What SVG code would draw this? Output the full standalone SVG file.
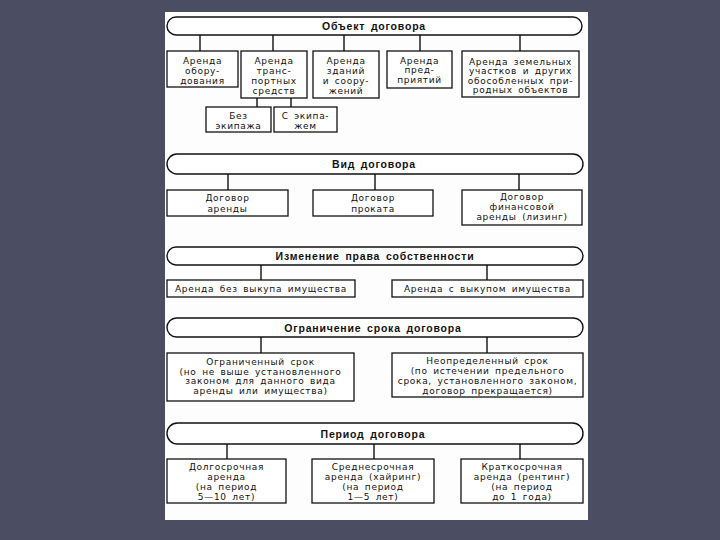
<svg xmlns="http://www.w3.org/2000/svg" width="720" height="540" viewBox="0 0 720 540">
<style>
.bx{fill:#fff;stroke:#111;stroke-width:1.3}
.pl{fill:#fff;stroke:#111;stroke-width:1.4}
.t{font-family:"DejaVu Sans","Liberation Sans",Arial,sans-serif;font-size:9px;letter-spacing:0.7px;word-spacing:2px;fill:#111;text-anchor:middle}
.h{font-family:"Liberation Sans",Arial,sans-serif;font-size:10.5px;font-weight:bold;letter-spacing:0.8px;word-spacing:2px;fill:#111;text-anchor:middle}
.c{stroke:#111;stroke-width:1.4;fill:none}
</style>
<rect width="720" height="540" fill="#4b4e62"/>
<rect x="165" y="12" width="423" height="508" fill="#fdfdfd"/>
<g id="connectors">
<path class="c" d="M200 35V51M273 35V51M344 35V51M420 35V51M520 35V51M257 98V107M291 98V107M228 174V190M375 174V190M519 174V190M261 265V280M487 265V280M261 337V353M487 337V353M227 444V459M374 444V459M520 444V459"/>
</g>
<g id="h1"><rect class="pl" x="167" y="17" width="415" height="18" rx="9"/><text class="h" x="374" y="30">Объект договора</text></g>
<g id="n1"><rect class="bx" x="167" y="51" width="71" height="36"/><text class="t" x="202.5" y="63.5">Аренда</text><text class="t" x="202.5" y="73.5">обору-</text><text class="t" x="202.5" y="83.5">дования</text></g>
<g id="n2"><rect class="bx" x="241" y="51" width="66" height="47"/><text class="t" x="274" y="63.5">Аренда</text><text class="t" x="274" y="73.5">транс-</text><text class="t" x="274" y="83.5">портных</text><text class="t" x="274" y="93.5">средств</text></g>
<g id="n3"><rect class="bx" x="313" y="51" width="66" height="47"/><text class="t" x="346" y="63.5">Аренда</text><text class="t" x="346" y="73.5">зданий</text><text class="t" x="346" y="83.5">и соору-</text><text class="t" x="346" y="93.5">жений</text></g>
<g id="n4"><rect class="bx" x="387" y="51" width="65" height="37"/><text class="t" x="419.5" y="63.5">Аренда</text><text class="t" x="419.5" y="73">пред-</text><text class="t" x="419.5" y="82.5">приятий</text></g>
<g id="n5"><rect class="bx" x="462" y="51" width="117" height="46"/><text class="t" x="520.5" y="64.5">Аренда земельных</text><text class="t" x="520.5" y="74">участков и других</text><text class="t" x="520.5" y="83.5">обособленных при-</text><text class="t" x="520.5" y="93">родных объектов</text></g>
<g id="n6"><rect class="bx" x="206" y="107" width="65" height="25"/><text class="t" x="238.5" y="118.5">Без</text><text class="t" x="238.5" y="129">экипажа</text></g>
<g id="n7"><rect class="bx" x="274" y="107" width="63" height="25"/><text class="t" x="305.5" y="118.5">С экипа-</text><text class="t" x="305.5" y="129">жем</text></g>
<g id="h2"><rect class="pl" x="167" y="154" width="416" height="20" rx="10"/><text class="h" x="374" y="168">Вид договора</text></g>
<g id="n8"><rect class="bx" x="167" y="190" width="121" height="26"/><text class="t" x="227.5" y="200.5">Договор</text><text class="t" x="227.5" y="211.5">аренды</text></g>
<g id="n9"><rect class="bx" x="313" y="190" width="120" height="26"/><text class="t" x="373" y="200.5">Договор</text><text class="t" x="373" y="211.5">проката</text></g>
<g id="n10"><rect class="bx" x="462" y="190" width="120" height="35"/><text class="t" x="522" y="200">Договор</text><text class="t" x="522" y="209.5">финансовой</text><text class="t" x="522" y="219.5">аренды (лизинг)</text></g>
<g id="h3"><rect class="pl" x="167" y="247" width="416" height="18" rx="9"/><text class="h" x="375" y="260">Изменение права собственности</text></g>
<g id="n11"><rect class="bx" x="167" y="280" width="188" height="17"/><text class="t" x="261" y="292">Аренда без выкупа имущества</text></g>
<g id="n12"><rect class="bx" x="392" y="280" width="191" height="17"/><text class="t" x="487.5" y="292">Аренда с выкупом имущества</text></g>
<g id="h4"><rect class="pl" x="167" y="318" width="416" height="19" rx="9.5"/><text class="h" x="373" y="331.5">Ограничение срока договора</text></g>
<g id="n13"><rect class="bx" x="167" y="353" width="187" height="48"/><text class="t" x="260.5" y="365">Ограниченный срок</text><text class="t" x="260.5" y="374.5">(но не выше установленного</text><text class="t" x="260.5" y="384">законом для данного вида</text><text class="t" x="260.5" y="393.5">аренды или имущества)</text></g>
<g id="n14"><rect class="bx" x="392" y="353" width="191" height="44"/><text class="t" x="487.5" y="363.5">Неопределенный срок</text><text class="t" x="487.5" y="373.5">(по истечении предельного</text><text class="t" x="487.5" y="383.5">срока, установленного законом,</text><text class="t" x="487.5" y="393.5">договор прекращается)</text></g>
<g id="h5"><rect class="pl" x="167" y="423" width="416" height="21" rx="10.5"/><text class="h" x="373" y="437.5">Период договора</text></g>
<g id="n15"><rect class="bx" x="167" y="459" width="119" height="44"/><text class="t" x="226.5" y="470">Долгосрочная</text><text class="t" x="226.5" y="480">аренда</text><text class="t" x="226.5" y="490">(на период</text><text class="t" x="226.5" y="500">5—10 лет)</text></g>
<g id="n16"><rect class="bx" x="312" y="459" width="122" height="44"/><text class="t" x="373" y="470">Среднесрочная</text><text class="t" x="373" y="480">аренда (хайринг)</text><text class="t" x="373" y="490">(на период</text><text class="t" x="373" y="500">1—5 лет)</text></g>
<g id="n17"><rect class="bx" x="461" y="459" width="122" height="44"/><text class="t" x="522" y="470">Краткосрочная</text><text class="t" x="522" y="480">аренда (рентинг)</text><text class="t" x="522" y="490">(на период</text><text class="t" x="522" y="500">до 1 года)</text></g>
</svg>
